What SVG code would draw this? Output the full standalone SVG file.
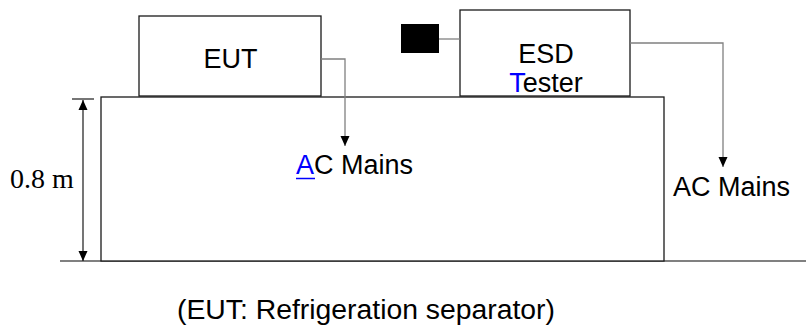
<svg xmlns="http://www.w3.org/2000/svg" width="806" height="329" viewBox="0 0 806 329">
  <style>
    .box { fill: #ffffff; stroke: #1a1a1a; stroke-width: 1.3; }
    .wire { fill: none; stroke: #808080; stroke-width: 1.3; }
    .dim { fill: none; stroke: #1a1a1a; stroke-width: 1.2; }
    .t { font-family: "Liberation Sans", Arial, sans-serif; font-size: 27px; fill: #000; }
    .serif { font-family: "Liberation Serif", "Times New Roman", serif; font-size: 28px; fill: #000; }
    .blue { fill: #0000ff; }
  </style>
  <defs>
    <marker id="arr" viewBox="0 0 10 10" refX="10" refY="5" markerWidth="10" markerHeight="10" markerUnits="userSpaceOnUse" orient="auto-start-reverse">
      <path d="M0,0.5 L10,5 L0,9.5 Z" fill="#000"/>
    </marker>
  </defs>

  <g id="ground">
    <line x1="60" y1="261" x2="806" y2="261" stroke="#808080" stroke-width="2"/>
  </g>

  <g id="table">
    <rect class="box" x="101" y="97" width="563" height="164"/>
  </g>

  <g id="eut">
    <rect class="box" x="139" y="16" width="182" height="80"/>
    <text class="t" x="230.5" y="68" text-anchor="middle">EUT</text>
  </g>

  <g id="esd-tester">
    <rect class="box" x="460" y="10" width="170" height="86"/>
    <text class="t" x="546" y="63" text-anchor="middle">ESD</text>
    <text class="t" x="546" y="92" text-anchor="middle"><tspan class="blue">T</tspan>ester</text>
  </g>

  <g id="ground-plug">
    <rect x="401" y="24" width="38" height="29" fill="#000"/>
  </g>

  <g id="ac-mains-1">
    <text class="t" x="296" y="174"><tspan class="blue">A</tspan>C Mains</text>
    <line x1="296" y1="178.5" x2="315" y2="178.5" stroke="#0000ff" stroke-width="1.5"/>
  </g>

  <g id="ac-mains-2">
    <text class="t" x="673" y="196">AC Mains</text>
  </g>

  <g id="connectors">
    <polyline class="wire" points="321,59 345,59 345,146" marker-end="url(#arr)"/>
    <line class="wire" x1="439" y1="39" x2="460" y2="39"/>
    <polyline class="wire" points="630,43 723,43 723,167" marker-end="url(#arr)"/>
  </g>

  <g id="dimension">
    <line class="dim" x1="72" y1="99" x2="94" y2="99"/>
    <line class="dim" x1="83" y1="100" x2="83" y2="261" marker-start="url(#arr)" marker-end="url(#arr)"/>
    <text class="serif" x="10" y="188">0.8 m</text>
  </g>

  <g id="caption">
    <text class="t" x="177" y="319" textLength="378" lengthAdjust="spacingAndGlyphs">(EUT: Refrigeration separator)</text>
  </g>
</svg>
